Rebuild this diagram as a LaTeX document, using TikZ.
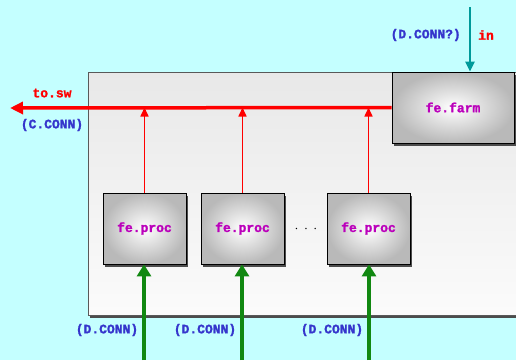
\documentclass[tikz,border=0pt]{standalone}
\usepackage{fontspec}
\setmonofont{Liberation Mono}[BoldFeatures={FakeBold=1.5}]
\usetikzlibrary{arrows.meta,shadows}
\definecolor{bgcyan}{HTML}{C4FFFF}
\definecolor{connblue}{HTML}{3535CC}
\definecolor{procmag}{HTML}{BB00BB}
\definecolor{inteal}{HTML}{009A9A}
\definecolor{dgreen}{HTML}{118811}
\tikzset{
  cfont/.style={font=\ttfamily\bfseries\fontsize{13}{13}\selectfont},
  conntxt/.style={cfont, text=connblue, inner sep=0pt},
  sigtxt/.style={cfont, text=red, inner sep=0pt},
  boxshadow/.style={drop shadow={shadow xshift=2pt, shadow yshift=-3pt, fill=gray!60!black, opacity=1}},
  framebox/.style={draw=gray!70!black, thick, top color=gray!18, bottom color=gray!3, boxshadow},
  procbox/.style={draw=black, thick, shading=radial, inner color=white, outer color=gray!55,
    boxshadow, cfont, text=procmag, minimum width=83pt, minimum height=71pt},
  busarrow/.style={red, line width=3.5pt, -{Triangle[width=12pt,length=13pt]}},
  uparrow/.style={red, line width=1.6pt, -{Triangle[width=8pt,length=9pt]}},
  feedarrow/.style={dgreen, line width=4pt, -{Triangle[width=14pt,length=12pt]}},
  inarrow/.style={inteal, line width=2.2pt, -{Triangle[width=9pt,length=10pt]}}
}
\begin{document}
\begin{tikzpicture}[x=1pt,y=-1pt]
  \useasboundingbox (0,0) rectangle (516,360);
  \clip (0,0) rectangle (516,360);
  \fill[bgcyan] (0,0) rectangle (516,360);
  % main frame and boxes
  \node[framebox, minimum width=432pt, minimum height=243pt] (frame) at (304,193.5) {};
  \node[procbox, minimum width=122pt] (farm) at (453,107.5) {fe.farm};
  \node[procbox] (p1) at (144.5,228.5) {fe.proc};
  \node[procbox] (p2) at (242.5,228.5) {fe.proc};
  \node[procbox] (p3) at (368.5,228.5) {fe.proc};
  \node[scale=1.4] (dots) at (306,229) {$\cdot\,\cdot\,\cdot$};
  % output to sw
  \coordinate (sw) at (10,108);
  \draw[busarrow] (farm.west) -- (sw);
  \foreach \p in {p1,p2,p3}
    \draw[uparrow] (\p.north) -- (\p.north |- farm.west);
  % input
  \coordinate (inp) at (470,7);
  \draw[inarrow] (inp) -- (inp |- farm.north);
  \foreach \p/\x in {p1/144,p2/242,p3/369} {
    \coordinate (\p in) at (\x,360);
    \draw[feedarrow] (\p in) -- (\p in |- \p.south);
  }
  % labels
  \node[sigtxt] (swlab) at (52,93) {to.sw};
  \node[conntxt] (cconn) at (52,125) {(C.CONN)};
  \node[conntxt, anchor=east] (dconnq) at (461,35) {(D.CONN?)};
  \node[sigtxt] (inlab) at (486,35) {in};
  \node[conntxt] (d1) at (107,330) {(D.CONN)};
  \node[conntxt] (d2) at (205,330) {(D.CONN)};
  \node[conntxt] (d3) at (332,330) {(D.CONN)};
\end{tikzpicture}
\end{document}
